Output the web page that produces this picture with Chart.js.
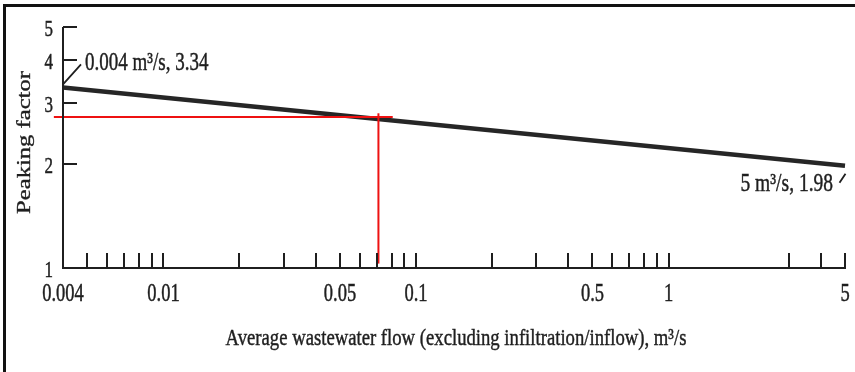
<!DOCTYPE html>
<html><head><meta charset="utf-8">
<script src="https://cdn.jsdelivr.net/npm/chart.js@4/dist/chart.umd.min.js"></script>
<style>html,body{margin:0;padding:0;background:#fff}#wrap{width:855px;height:372px;position:relative}canvas{display:block}</style>
</head><body><div id="wrap"><canvas id="c" width="855" height="372"></canvas></div>
<script>
// ---- data ----
const flowTickValues = [0.004,0.005,0.006,0.007,0.008,0.009,0.01,0.02,0.03,0.04,0.05,0.06,0.07,0.08,0.09,0.1,0.2,0.3,0.4,0.5,0.6,0.7,0.8,0.9,1,3,4,5];
const flowLabelValues = [0.004,0.01,0.05,0.1,0.5,1,5];
const flowLabels = ['0.004','0.01','0.05','0.1','0.5','1','5'];
const factorTickValues = [1,2,3,4,5];
const factorLabels = ['1','2','3','4','5'];
const curveFlow = [0.004, 5];
const curveFactor = [3.34, 1.98];
const designFlow = 0.071;
const designFactor = 2.74;
const guideFlowRange = [0.00368, 0.0809];
const guideFactorRange = [1.03, 2.81];
const startNote = '0.004 m\u00B3/s, 3.34';
const endNote = '5 m\u00B3/s, 1.98';
const xTitle = 'Average wastewater flow (excluding infiltration/inflow), m\u00B3/s';
const yTitle = 'Peaking factor';

const INK = '#1f1f1f';
const RED = '#ee1111';
const SERIF = '"Liberation Serif", "Times New Roman", serif';

function stretchText(ctx, text, x, y, opt) {
  ctx.save();
  ctx.translate(x, y);
  if (opt.rot) ctx.rotate(opt.rot);
  ctx.scale(opt.sx || 1, opt.sy || 1);
  ctx.font = (opt.size) + 'px ' + SERIF;
  ctx.fillStyle = INK;
  ctx.strokeStyle = INK;
  ctx.lineWidth = 0.35;
  ctx.textAlign = opt.align || 'center';
  ctx.textBaseline = 'middle';
  ctx.fillText(text, 0, 0);
  ctx.strokeText(text, 0, 0);
  ctx.restore();
}

const decor = {
  id: 'decor',
  afterDraw(chart) {
    const ctx = chart.ctx;
    const xs = chart.scales.x, ys = chart.scales.y;
    const L = xs.left, R = xs.right, T = ys.top, B = ys.bottom;
    ctx.save();
    ctx.fillStyle = '#111';
    // scan frame (top + left)
    ctx.fillRect(3, 4, 852, 3);
    ctx.fillRect(3, 4, 3, 368);
    // axes
    ctx.strokeStyle = INK;
    ctx.lineWidth = 2;
    ctx.lineCap = 'butt';
    ctx.beginPath();
    ctx.moveTo(L, T); ctx.lineTo(L, B + 1);
    ctx.moveTo(L - 1, B); ctx.lineTo(R + 1, B);
    ctx.stroke();
    // x ticks (inward)
    ctx.beginPath();
    xs.ticks.forEach(t => {
      if (t.value <= xs.min) return;
      const px = Math.round(xs.getPixelForValue(t.value));
      ctx.moveTo(px, B); ctx.lineTo(px, B - 15);
    });
    // y ticks (inward)
    ys.ticks.forEach(t => {
      if (t.value <= ys.min) return;
      const py = Math.round(ys.getPixelForValue(t.value));
      ctx.moveTo(L, py); ctx.lineTo(L + 14, py);
    });
    ctx.stroke();
    // x labels
    flowLabelValues.forEach((v, i) => {
      stretchText(ctx, flowLabels[i], xs.getPixelForValue(v), B + 26, {size: 18.5, sy: 1.35});
    });
    // y labels
    factorTickValues.forEach((v, i) => {
      stretchText(ctx, factorLabels[i], L - 10, ys.getPixelForValue(v) + 3, {size: 17, sy: 1.3, align: 'right'});
    });
    // axis titles
    stretchText(ctx, xTitle, (L + R) / 2 + 2, B + 71, {size: 18.7, sy: 1.28});
    stretchText(ctx, yTitle, 25, (T + B) / 2 - 5, {size: 18.5, sx: 1.33, rot: -Math.PI / 2});
    // annotations
    const p0x = xs.getPixelForValue(curveFlow[0]), p0y = ys.getPixelForValue(curveFactor[0]);
    const p1x = xs.getPixelForValue(curveFlow[1]), p1y = ys.getPixelForValue(curveFactor[1]);
    ctx.lineWidth = 1.8;
    ctx.beginPath();
    ctx.moveTo(p0x, p0y - 3); ctx.lineTo(p0x + 18, p0y - 23);
    ctx.moveTo(p1x - 5.5, p1y + 17); ctx.lineTo(p1x + 0.5, p1y + 8);
    ctx.stroke();
    stretchText(ctx, startNote, p0x + 22, p0y - 24, {size: 19, sy: 1.3, align: 'left'});
    stretchText(ctx, endNote, p1x - 12, p1y + 19, {size: 19.5, sy: 1.3, align: 'right'});
    ctx.restore();
  }
};

new Chart(document.getElementById('c'), {
  type: 'line',
  data: {
    datasets: [
      {
        data: guideFlowRange.map(x => ({x, y: designFactor})),
        borderColor: RED, borderWidth: 2, pointRadius: 0, clip: false
      },
      {
        data: guideFactorRange.map(y => ({x: designFlow, y})),
        borderColor: RED, borderWidth: 2, pointRadius: 0, clip: false
      },
      {
        data: curveFlow.map((x, i) => ({x, y: curveFactor[i]})),
        borderColor: '#262626', borderWidth: 4.5, pointRadius: 0, clip: false
      }
    ]
  },
  options: {
    responsive: false,
    devicePixelRatio: 1,
    animation: false,
    layout: {padding: {top: 27, right: 10, left: 0, bottom: 0}},
    plugins: {legend: {display: false}, tooltip: {enabled: false}},
    scales: {
      x: {
        type: 'logarithmic', min: 0.004, max: 5,
        afterBuildTicks: s => { s.ticks = flowTickValues.map(v => ({value: v})); },
        afterFit: s => { s.height = 104; },
        grid: {display: false}, border: {display: false}, ticks: {display: false}
      },
      y: {
        type: 'logarithmic', min: 1, max: 5,
        afterBuildTicks: s => { s.ticks = factorTickValues.map(v => ({value: v})); },
        afterFit: s => { s.width = 63; },
        grid: {display: false}, border: {display: false}, ticks: {display: false}
      }
    }
  },
  plugins: [decor]
});
</script>
</body></html>
